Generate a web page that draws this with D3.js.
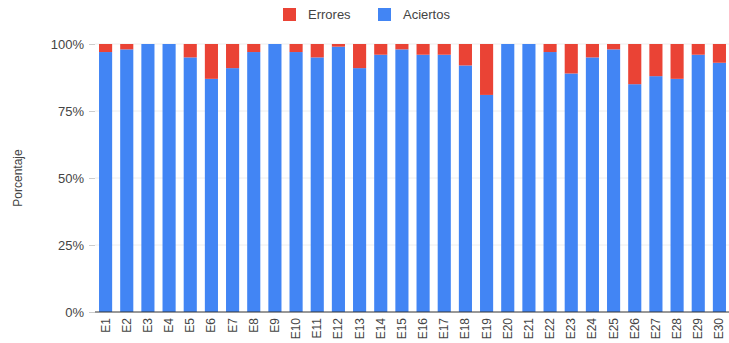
<!DOCTYPE html>
<html>
<head>
<meta charset="utf-8">
<script src="https://cdn.jsdelivr.net/npm/d3@7"></script>
<style>
  body { margin: 0; background: #fff; font-family: Arial, "Liberation Sans", sans-serif; }
  svg text { fill: #444; }
</style>
</head>
<body>
<svg id="chart" width="729" height="343"></svg>
<script>
// data
const categories = d3.range(1, 31).map(i => "E" + i);
const aciertos = [97, 98, 100, 100, 95, 87, 91, 97, 100, 97,
                  95, 99, 91, 96, 98, 96, 96, 92, 81, 100,
                  100, 97, 89, 95, 98, 85, 88, 87, 96, 93];
const errores = aciertos.map(v => 100 - v);
const yTicks = [0, 25, 50, 75, 100];
const seriesNames = ["Errores", "Aciertos"];
const colors = { Errores: "#ea4335", Aciertos: "#4285f4" };

const svg = d3.select("#chart");
const plot = { left: 95, right: 730, top: 44, bottom: 312 };

const x = d3.scaleBand()
  .domain(categories)
  .range([plot.left, plot.right])
  .paddingInner(0.38)
  .paddingOuter(0.19);

const y = d3.scaleLinear().domain([0, 100]).range([plot.bottom, plot.top]);

// grid lines
svg.append("g")
  .selectAll("line")
  .data(yTicks.filter(t => t > 0))
  .enter().append("line")
  .attr("x1", plot.left).attr("x2", plot.right)
  .attr("y1", d => y(d)).attr("y2", d => y(d))
  .attr("stroke", "#eeeeee");

// y axis
const yAxis = svg.append("g")
  .attr("transform", `translate(${plot.left},0)`)
  .call(d3.axisLeft(y).tickValues(yTicks).tickFormat(d => d + "%").tickSize(6).tickPadding(5));
yAxis.select(".domain").remove();
yAxis.selectAll("line").attr("stroke", "#cccccc");
yAxis.selectAll("text").style("font-size", "13px").attr("fill", "#444");

// stacked bars
const rows = categories.map((c, i) => ({ cat: c, Aciertos: aciertos[i], Errores: errores[i] }));
const stack = d3.stack().keys(["Aciertos", "Errores"])(rows);

svg.append("g")
  .selectAll("g")
  .data(stack)
  .enter().append("g")
  .attr("fill", d => colors[d.key])
  .selectAll("rect")
  .data(d => d)
  .enter().append("rect")
  .attr("x", d => x(d.data.cat))
  .attr("width", x.bandwidth())
  .attr("y", d => y(d[1]))
  .attr("height", d => y(d[0]) - y(d[1]));

// baseline
svg.append("line")
  .attr("x1", plot.left).attr("x2", plot.right)
  .attr("y1", plot.bottom).attr("y2", plot.bottom)
  .attr("stroke", "#333");

// x labels
svg.append("g")
  .selectAll("text")
  .data(categories)
  .enter().append("text")
  .attr("transform", d => `translate(${x(d) + x.bandwidth() / 2 + 4},${plot.bottom + 6}) rotate(-90)`)
  .attr("text-anchor", "end")
  .style("font-size", "12px")
  .text(d => d);

// y title
svg.append("text")
  .attr("transform", `translate(22,${(plot.top + plot.bottom) / 2}) rotate(-90)`)
  .attr("text-anchor", "middle")
  .style("font-size", "12px")
  .text("Porcentaje");

// legend
const legend = svg.append("g");
const legendPos = [{ name: "Errores", x: 283 }, { name: "Aciertos", x: 378 }];
legendPos.forEach(l => {
  legend.append("rect")
    .attr("x", l.x).attr("y", 8).attr("width", 13).attr("height", 13)
    .attr("fill", colors[l.name]);
  legend.append("text")
    .attr("x", l.x + 25).attr("y", 19)
    .style("font-size", "13px")
    .text(l.name);
});
</script>
</body>
</html>
